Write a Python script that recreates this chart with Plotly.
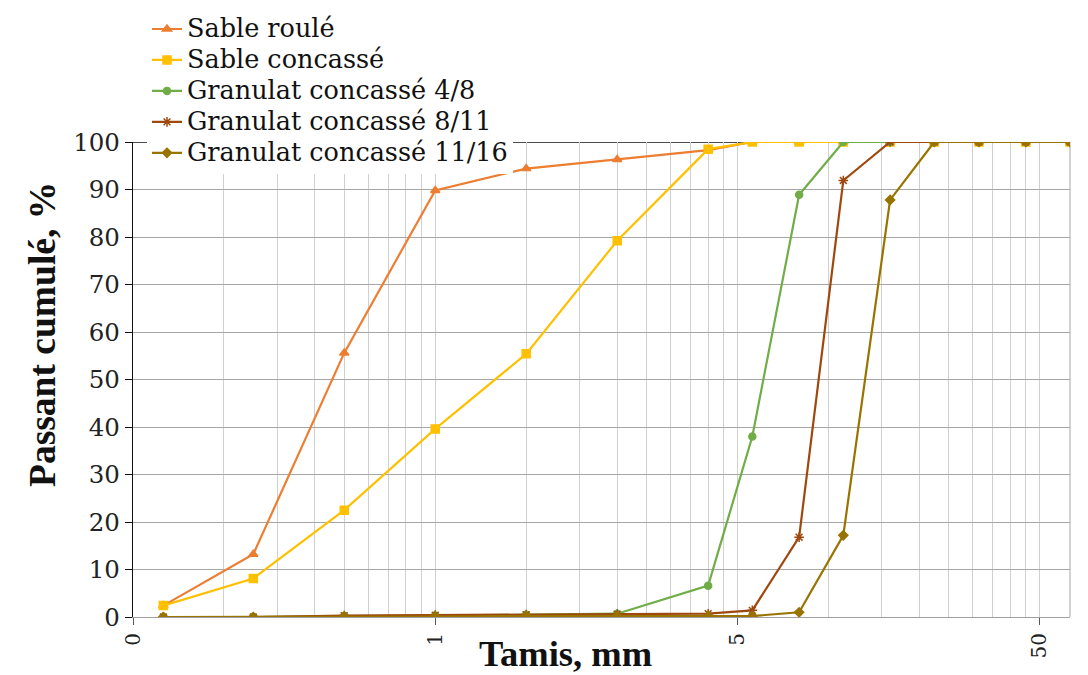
import math
import plotly.graph_objects as go

# ---- data ----
sieves = [0.063, 0.125, 0.25, 0.5, 1, 2, 4, 5.6, 8, 11.2, 16, 22.4, 31.5, 45, 63]
sable_roule = [2.4, 13.2, 55.6, 89.8, 94.4, 96.3, 98.3, 100, 100, 100, 100, 100, 100, 100, 100]
sable_concasse = [2.4, 8.1, 22.5, 39.6, 55.4, 79.2, 98.5, 100, 100, 100, 100, 100, 100, 100, 100]
granulat_4_8 = [0, 0, 0.2, 0.3, 0.5, 0.7, 6.6, 38.0, 88.9, 100, 100, 100, 100, 100, 100]
granulat_8_11 = [0, 0, 0.3, 0.4, 0.5, 0.6, 0.7, 1.4, 16.8, 91.9, 100, 100, 100, 100, 100]
granulat_11_16 = [0, 0, 0.1, 0.1, 0.2, 0.2, 0.2, 0.2, 1.0, 17.2, 87.8, 100, 100, 100, 100]

series_names = ["Sable roulé", "Sable concassé", "Granulat concassé 4/8",
                "Granulat concassé 8/11", "Granulat concassé 11/16"]
major_ticks = [0.05, 0.5, 5, 50]
major_labels = ["0", "1", "5", "50"]
minor_ticks = ([0.05 * k for k in range(2, 10)] + [0.5 * k for k in range(2, 10)]
               + [5 * k for k in range(2, 10)])
x_min, x_max = 0.05, 63

series = [sable_roule, sable_concasse, granulat_4_8, granulat_8_11, granulat_11_16]
colors = ["#ED7D31", "#FFC000", "#70AD47", "#9E480E", "#997300"]
symbols = ["triangle-up", "square", "circle", "asterisk-open", "diamond"]
sizes = [8, 8, 7, 8, 7]

fig = go.Figure()
for name, vals, c, s, sz in zip(series_names, series, colors, symbols, sizes):
    fig.add_trace(go.Scatter(
        x=sieves, y=vals,
        name='<span style="font-size:25.5px">' + name + "</span>",
        mode="lines+markers",
        line=dict(color=c, width=2.2),
        marker=dict(symbol=s, size=sz, color=c, line=dict(color=c, width=1.5)),
    ))

# page has an 8px body margin: figure origin sits at screen (8, 8)
OFF = 8
W, H = 1080, 667
L, R, T, B = 125, 18, 134, 58
pw, ph = W - L - R, H - T - B

def fx(sx):
    return (sx - OFF - L) / pw

def fy(sy):
    return (H - B - (sy - OFF)) / ph

serif = "DejaVu Serif"
fig.update_layout(
    width=W, height=H,
    margin=dict(l=L, r=R, t=T, b=B, autoexpand=False),
    paper_bgcolor="white", plot_bgcolor="white",
    showlegend=True,
    legend=dict(
        x=fx(147), y=fy(8.5), xanchor="left", yanchor="top",
        bgcolor="white", borderwidth=0,
        font=dict(family=serif, size=21.5, color="#111111"),
        tracegroupgap=0,
    ),
    xaxis=dict(
        type="log", range=[math.log10(x_min), math.log10(x_max)],
        tickmode="array", tickvals=major_ticks, ticktext=major_labels,
        tickangle=-90, ticks="outside", ticklen=7, tickcolor="#595959",
        tickfont=dict(family=serif, size=20, color="#222222"),
        showgrid=True, gridcolor="#d0d0d0", gridwidth=1,
        minor=dict(tickvals=minor_ticks, showgrid=True, gridcolor="#d0d0d0",
                   gridwidth=1, ticks=""),
        showline=True, linecolor="#a0a0a0", linewidth=1,
        zeroline=False, automargin=False,
    ),
    yaxis=dict(
        range=[0, 100], dtick=10, tick0=0,
        ticks="outside", ticklen=7, tickcolor="#111111",
        tickfont=dict(family=serif, size=24.5, color="#222222"),
        showgrid=True, gridcolor="#a6a6a6", gridwidth=1,
        showline=True, linecolor="#111111", linewidth=1.3,
        zeroline=False, automargin=False,
    ),
    annotations=[
        dict(text="<b>Passant cumulé, %</b>", xref="paper", yref="paper",
             x=fx(42), y=fy(335), textangle=-90, showarrow=False,
             font=dict(family="Liberation Serif", size=37.5, color="#111111"),
             xanchor="center", yanchor="middle"),
        dict(text="<b>Tamis, mm</b>", xref="paper", yref="paper",
             x=fx(565), y=fy(653), showarrow=False,
             font=dict(family="Liberation Serif", size=36.5, color="#111111"),
             xanchor="center", yanchor="middle"),
    ],
    shapes=[
        dict(type="line", xref="paper", yref="y", x0=0, x1=1, y0=100, y1=100,
             line=dict(color="#111111", width=1.3), layer="between"),
        dict(type="line", xref="paper", yref="paper", x0=1, x1=1, y0=0, y1=1,
             line=dict(color="#a6a6a6", width=1), layer="between"),
    ],
)

fig.write_html("out.html")
